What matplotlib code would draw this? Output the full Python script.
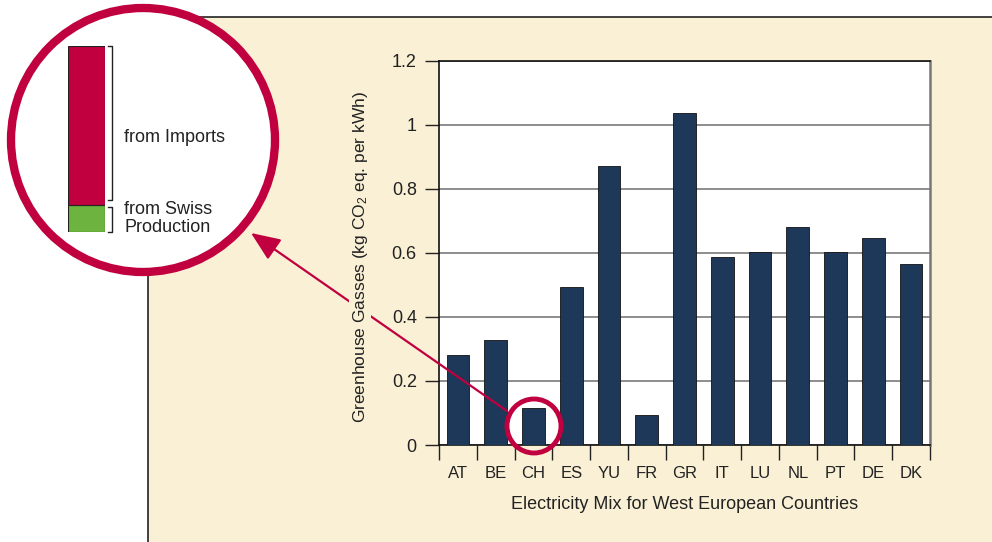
import matplotlib
matplotlib.use("Agg")
import matplotlib.pyplot as plt
from matplotlib.patches import Circle, Rectangle, FancyArrowPatch

plt.rcParams['font.family'] = ['Liberation Sans', 'DejaVu Sans']
plt.rcParams['mathtext.fontset'] = 'custom'
plt.rcParams['mathtext.rm'] = 'Liberation Sans'
plt.rcParams['mathtext.it'] = 'Liberation Sans'

countries = ['AT', 'BE', 'CH', 'ES', 'YU', 'FR', 'GR', 'IT', 'LU', 'NL', 'PT', 'DE', 'DK']
ghg = [0.281, 0.328, 0.115, 0.493, 0.871, 0.093, 1.036, 0.587, 0.602, 0.680, 0.602, 0.646, 0.565]
yticks = [0, 0.2, 0.4, 0.6, 0.8, 1.0, 1.2]
ytick_labels = ['0', '0.2', '0.4', '0.6', '0.8', '1', '1.2']
# swiss mix split (inset)
ch_swiss = 0.017
ch_imports = 0.098

cream = '#f9f0d5'
crimson = '#c0003f'
navy = '#1e3859'
green = '#6db33f'

W, H = 992, 542
fig = plt.figure(figsize=(W / 100, H / 100), dpi=100, facecolor='white')

# background axes in pixel coords
bg = fig.add_axes([0, 0, 1, 1], zorder=0)
bg.set_xlim(0, W)
bg.set_ylim(H, 0)
bg.axis('off')
bg.add_patch(Rectangle((148, 17), W, H, facecolor=cream, edgecolor='none'))
bg.plot([148, 148, W], [H, 17, 17], color='#222222', lw=1.2)

# main chart
ax = fig.add_axes([439 / W, (H - 445) / H, (930 - 439) / W, (445 - 60.5) / H], zorder=1)
ax.set_facecolor('white')
x = list(range(len(countries)))
ax.bar(x, ghg, width=0.6, color=navy, edgecolor='#111111', linewidth=0.6, zorder=3)
ax.set_xlim(-0.5, len(countries) - 0.5)
ax.set_ylim(0, 1.2)
ax.set_yticks(yticks)
ax.set_yticklabels(ytick_labels)
ax.set_xticks(x)
ax.set_xticklabels(countries)
ax.set_xticks([i - 0.5 for i in range(len(countries) + 1)], minor=True)
ax.tick_params(axis='x', which='major', length=0, pad=15, labelsize=12, labelcolor='#222222')
ax.tick_params(axis='x', which='minor', length=11, width=1, color='#222222', direction='out')
ax.tick_params(axis='y', length=10, width=1, pad=6, labelsize=13, color='#222222',
               labelcolor='#222222')
ax.yaxis.grid(True, color='#7a7a7a', lw=1.2, zorder=1)
for s in ['left', 'bottom', 'top']:
    ax.spines[s].set_color('#111111')
    ax.spines[s].set_linewidth(1.2)
ax.spines['right'].set_color('#777777')
ax.spines['right'].set_linewidth(1.8)
ax.set_xlabel('Electricity Mix for West European Countries', fontsize=13, labelpad=11,
              color='#222222')

# overlay in pixel coords
ov = fig.add_axes([0, 0, 1, 1], zorder=2)
ov.set_xlim(0, W)
ov.set_ylim(H, 0)
ov.axis('off')
ov.patch.set_alpha(0)

ov.add_patch(Circle((143, 140), 132, facecolor='white', edgecolor=crimson, lw=6))
ov.add_patch(Circle((534, 426), 27, facecolor='none', edgecolor=crimson, lw=3.5))
ov.add_patch(FancyArrowPatch((507, 411), (251, 233), arrowstyle='-|>,head_length=12,head_width=5',
                             color=crimson, lw=1.6, mutation_scale=1.5, shrinkA=0, shrinkB=0))

ov.text(360, 257, 'Greenhouse Gasses (kg CO$_2$ eq. per kWh)', rotation=90, fontsize=12.5,
        ha='center', va='center', color='#222222',
        bbox=dict(facecolor=cream, edgecolor='none', pad=1))

# brackets
ov.plot([108, 112, 112, 108], [46, 46, 200, 200], color='#222222', lw=1)
ov.plot([108, 112, 112, 108], [207, 207, 232, 232], color='#222222', lw=1)
ov.text(124, 137, 'from Imports', fontsize=13, va='center', ha='left', color='#222222')
ov.text(124, 209, 'from Swiss', fontsize=13, va='center', ha='left', color='#222222')
ov.text(124, 227, 'Production', fontsize=13, va='center', ha='left', color='#222222')

# inset stacked bar
ins = fig.add_axes([68 / W, (H - 232) / H, (105 - 68) / W, (232 - 46) / H], zorder=3)
ins.bar([0], [ch_swiss], width=1, color=green, edgecolor='#222222', lw=0.8)
ins.bar([0], [ch_imports], bottom=[ch_swiss], width=1, color=crimson, edgecolor='#222222', lw=0.8)
ins.set_xlim(-0.5, 0.5)
ins.set_ylim(0, ch_swiss + ch_imports)
ins.axis('off')

fig.savefig('out.png', dpi=100, facecolor='white')
